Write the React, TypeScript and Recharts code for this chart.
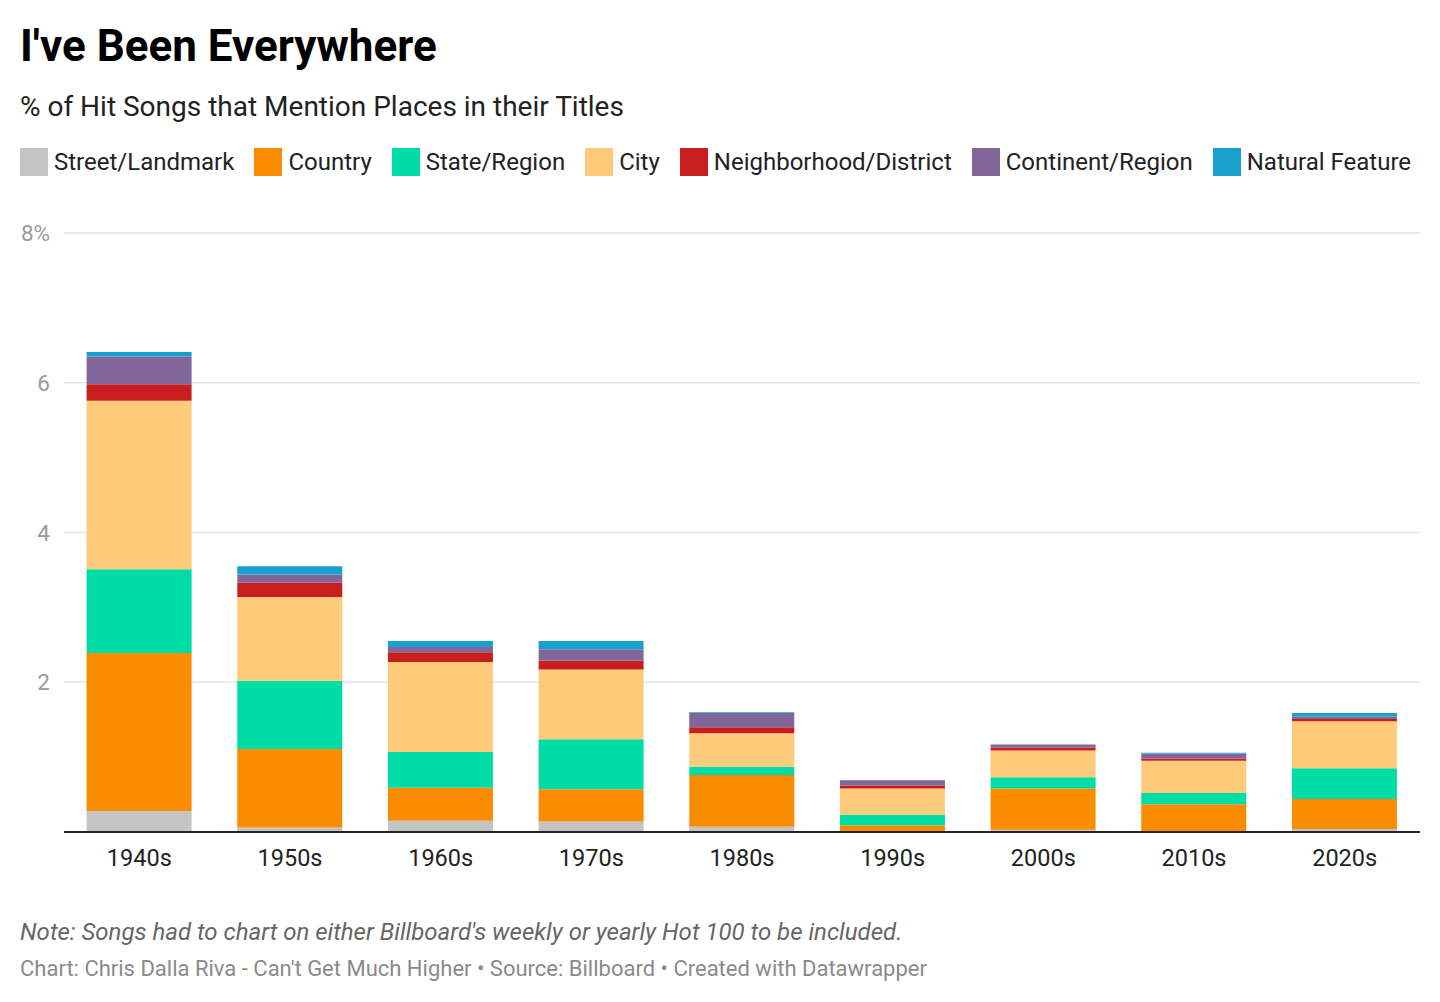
import { BarChart, Bar, XAxis, YAxis, CartesianGrid } from 'recharts'

const decades = ['1940s', '1950s', '1960s', '1970s', '1980s', '1990s', '2000s', '2010s', '2020s']

const streetLandmark = [0.28, 0.06, 0.15, 0.14, 0.07, 0.0, 0.03, 0.01, 0.04]
const country = [2.11, 1.05, 0.44, 0.43, 0.69, 0.09, 0.55, 0.36, 0.4]
const stateRegion = [1.12, 0.91, 0.48, 0.67, 0.11, 0.14, 0.15, 0.15, 0.41]
const city = [2.25, 1.12, 1.2, 0.93, 0.45, 0.35, 0.36, 0.43, 0.63]
const neighborhood = [0.22, 0.19, 0.13, 0.12, 0.08, 0.04, 0.04, 0.03, 0.03]
const continentRegion = [0.37, 0.11, 0.07, 0.15, 0.19, 0.07, 0.04, 0.07, 0.03]
const naturalFeature = [0.06, 0.11, 0.08, 0.11, 0.01, 0.0, 0.0, 0.01, 0.05]

const yTicks = [0, 2, 4, 6, 8]

const SERIES = [
  { key: 'street', name: 'Street/Landmark', color: '#c4c4c4', values: streetLandmark },
  { key: 'country', name: 'Country', color: '#f98c00', values: country },
  { key: 'state', name: 'State/Region', color: '#00dca6', values: stateRegion },
  { key: 'city', name: 'City', color: '#fecb7a', values: city },
  { key: 'neighborhood', name: 'Neighborhood/District', color: '#c91e1e', values: neighborhood },
  { key: 'continent', name: 'Continent/Region', color: '#816699', values: continentRegion },
  { key: 'natural', name: 'Natural Feature', color: '#18a1cd', values: naturalFeature },
]

const data = decades.map((decade, i) => {
  const row: Record<string, string | number> = { decade }
  SERIES.forEach(s => { row[s.key] = s.values[i] })
  return row
})

const FONT = 'Roboto, "Noto Sans", sans-serif'

const renderYTick = (props: any) => {
  const { x, y, payload } = props
  if (payload.value === 0) return <g />
  const label = payload.value === 8 ? '8%' : String(payload.value)
  return (
    <text x={x - 6} y={y} dy={8} textAnchor="end" fill="#9a9a9a" fontSize={22.5} fontFamily={FONT}>
      {label}
    </text>
  )
}

const renderXTick = (props: any) => {
  const { x, y, payload } = props
  return (
    <text x={x} y={y} dy={26} textAnchor="middle" fill="#222" fontSize={23.5} fontFamily={FONT}>
      {payload.value}
    </text>
  )
}

export default function App() {
  return (
    <div style={{ position: 'absolute', left: 0, top: 0, width: 1440, height: 1002, background: '#fff', fontFamily: FONT }}>
      <div style={{ position: 'absolute', left: 20, top: 20, fontSize: 44, fontWeight: 700, color: '#000', lineHeight: '52px' }}>
        I've Been Everywhere
      </div>
      <div style={{ position: 'absolute', left: 20, top: 90, fontSize: 28, color: '#222', lineHeight: '34px' }}>
        % of Hit Songs that Mention Places in their Titles
      </div>
      <div style={{ position: 'absolute', left: 20, top: 148, display: 'flex', alignItems: 'center' }}>
        {SERIES.map(s => (
          <div key={s.key} style={{ display: 'flex', alignItems: 'center', marginRight: 20 }}>
            <div style={{ width: 28, height: 28, background: s.color, marginRight: 6 }} />
            <span style={{ fontSize: 24, color: '#222', lineHeight: '28px' }}>{s.name}</span>
          </div>
        ))}
      </div>
      <div style={{ position: 'absolute', left: 0, top: 200 }}>
        <BarChart
          width={1440}
          height={700}
          data={data}
          margin={{ top: 33, right: 20, left: 0, bottom: 28 }}
          barCategoryGap="15%"
        >
          <CartesianGrid horizontal vertical={false} stroke="#e5e5e5" strokeWidth={1.5} />
          <YAxis
            domain={[0, 8]}
            ticks={yTicks}
            width={64}
            axisLine={false}
            tickLine={false}
            tick={renderYTick}
            interval={0}
          />
          <XAxis
            dataKey="decade"
            height={40}
            tickLine={false}
            axisLine={{ stroke: '#222', strokeWidth: 2 }}
            tick={renderXTick}
            interval={0}
          />
          {SERIES.map(s => (
            <Bar key={s.key} dataKey={s.key} name={s.name} stackId="a" fill={s.color} isAnimationActive={false} />
          ))}
        </BarChart>
      </div>
      <div style={{ position: 'absolute', left: 20, top: 917, fontSize: 24, fontStyle: 'italic', color: '#666', lineHeight: '30px' }}>
        Note: Songs had to chart on either Billboard's weekly or yearly Hot 100 to be included.
      </div>
      <div style={{ position: 'absolute', left: 20, top: 955, fontSize: 22, color: '#8a8a8a', lineHeight: '28px' }}>
        Chart: Chris Dalla Riva - Can't Get Much Higher • Source: Billboard • Created with Datawrapper
      </div>
    </div>
  )
}
